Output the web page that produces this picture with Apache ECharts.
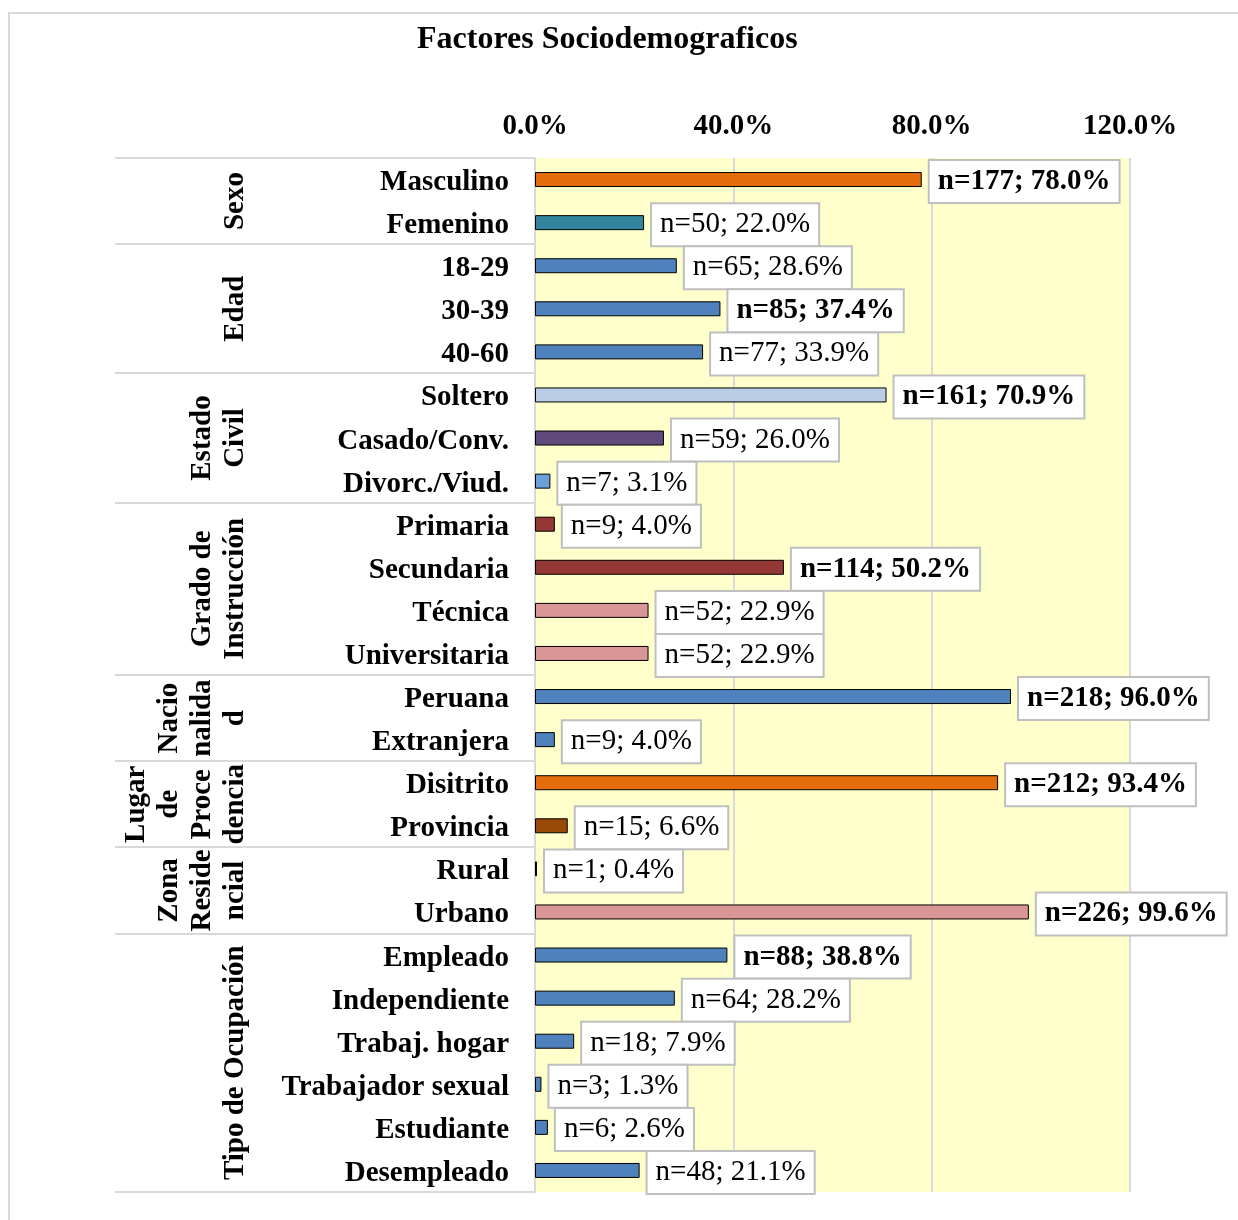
<!DOCTYPE html>
<html>
<head>
<meta charset="utf-8">
<script src="https://cdn.jsdelivr.net/npm/echarts@6/dist/echarts.min.js"></script>
<style>
html,body{margin:0;padding:0;background:#fff;}
#c{width:1238px;height:1220px;}
</style>
</head>
<body>
<div id="c"></div>
<script>
const categories = ["Masculino","Femenino","18-29","30-39","40-60","Soltero","Casado/Conv.","Divorc./Viud.","Primaria","Secundaria","Técnica","Universitaria","Peruana","Extranjera","Disitrito","Provincia","Rural","Urbano","Empleado","Independiente","Trabaj. hogar","Trabajador sexual","Estudiante","Desempleado"];
const percentValues = [78.0,22.0,28.6,37.4,33.9,70.9,26.0,3.1,4.0,50.2,22.9,22.9,96.0,4.0,93.4,6.6,0.4,99.6,38.8,28.2,7.9,1.3,2.6,21.1];
const countValues = [177,50,65,85,77,161,59,7,9,114,52,52,218,9,212,15,1,226,88,64,18,3,6,48];
const boldFlags = [1,0,0,1,0,1,0,0,0,1,0,0,1,0,1,0,0,1,1,0,0,0,0,0];
const barColors = ["#E46C0A","#31849B","#4F81BD","#4F81BD","#4F81BD","#B9CDE5","#604A7B","#6CA0DC","#953735","#953735","#D99694","#D99694","#4F81BD","#4F81BD","#E46C0A","#984807","#4F81BD","#D99694","#4F81BD","#4F81BD","#4F81BD","#4F81BD","#4F81BD","#4F81BD"];
const groupNames = ["Sexo","Edad","Estado\nCivil","Grado de\nInstrucción","Nacio\nnalida\nd","Lugar\nde\nProce\ndencia","Zona\nReside\nncial","Tipo de Ocupación"];
const groupStarts = [0,2,5,8,12,14,16,18];
const groupSizes = [2,3,3,4,2,2,2,6];
const xTicks = [0,40,80,120];

const FONT = "'Liberation Serif','Times New Roman',Times,serif";
const chart = echarts.init(document.getElementById('c'), null, {renderer:'canvas'});

const seriesData = percentValues.map((v,i)=>({
  value: v,
  itemStyle: {color: barColors[i]},
  label: {fontWeight: boldFlags[i] ? 'bold' : 'normal'}
}));

chart.setOption({
  animation:false,
  title:{
    text:'Factores Sociodemograficos',
    left:412, top:19,
    textStyle:{fontFamily:FONT,fontSize:32,fontWeight:'bold',color:'#000'}
  },
  grid:{left:535,right:108,top:158,bottom:28,containLabel:false,outerBoundsMode:'none',
        show:true,backgroundColor:'#FFFFCC',borderWidth:0},
  xAxis:{
    type:'value',position:'top',min:xTicks[0],max:xTicks[xTicks.length-1],interval:xTicks[1]-xTicks[0],
    axisLine:{show:false},axisTick:{show:false},
    axisLabel:{margin:17,fontFamily:FONT,fontSize:29,fontWeight:'bold',color:'#000',
      formatter:v=>v.toFixed(1)+'%'},
    splitLine:{show:true,lineStyle:{color:'#D9D9D9',width:2}}
  },
  yAxis:{
    type:'category',inverse:true,data:categories,
    axisLine:{show:true,lineStyle:{color:'#D9D9D9',width:2}},
    axisTick:{show:false},
    axisLabel:{margin:26,color:'#000',
      formatter:v=>'{c|'+v+'}',
      rich:{c:{fontFamily:FONT,fontSize:29,fontWeight:'bold',color:'#000',padding:[6,0,0,0]}}}
  },
  series:[{
    type:'bar',data:seriesData,barWidth:15,
    itemStyle:{borderColor:'#000',borderWidth:1},
    label:{show:true,position:'right',distance:8,offset:[0,2],fontFamily:FONT,fontSize:29,color:'#000',
      backgroundColor:'#fff',borderColor:'#BFBFBF',borderWidth:2,padding:[4,8,4,8],lineHeight:33,
      formatter:p=>'n='+countValues[p.dataIndex]+'; '+percentValues[p.dataIndex].toFixed(1)+'%'}
  }]
});

// group separators and labels from the category axis scale
const yA = chart.convertToPixel({yAxisIndex:0}, 0);
const yB = chart.convertToPixel({yAxisIndex:0}, 1);
const band = yB - yA;
const plotLeft = chart.convertToPixel({xAxisIndex:0}, 0);
const graphics = [];
graphics.push({type:'rect',shape:{x:9,y:13,width:1240,height:1220},style:{fill:null,stroke:'#D9D9D9',lineWidth:2},silent:true});
const boundaries = groupStarts.concat([categories.length]);
boundaries.forEach(b=>{
  const y = Math.round(yA + (b - 0.5)*band);
  graphics.push({type:'line',shape:{x1:115,y1:y,x2:plotLeft,y2:y},style:{stroke:'#D9D9D9',lineWidth:2},silent:true});
});
groupNames.forEach((g,i)=>{
  const yc = yA + (groupStarts[i] - 0.5 + groupSizes[i]/2)*band;
  graphics.push({type:'text',x:252,y:yc,rotation:Math.PI/2,silent:true,
    style:{text:g,font:'bold 29px '+FONT,fill:'#000',align:'center',verticalAlign:'bottom',
      textAlign:'center',textVerticalAlign:'bottom',lineHeight:33}});
});
chart.setOption({graphic:graphics});
</script>
</body>
</html>
